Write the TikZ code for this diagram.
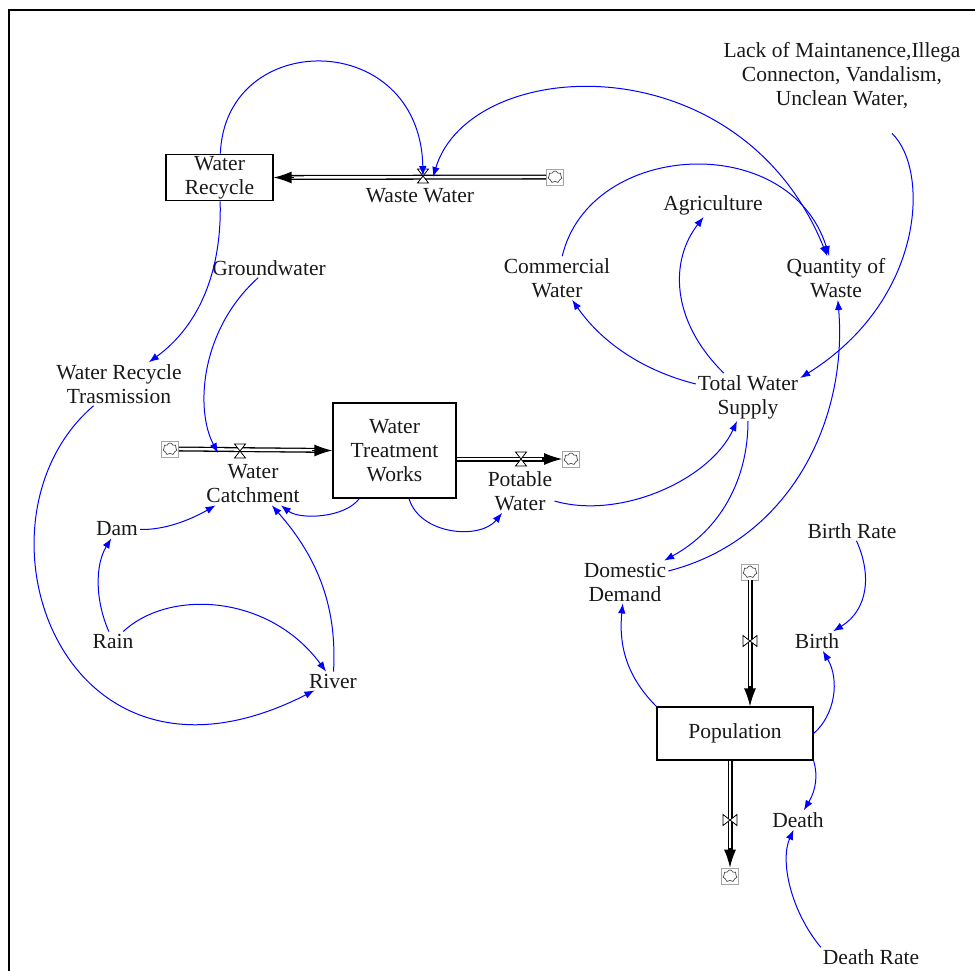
\documentclass[tikz,border=0pt]{standalone}
\usepackage{fontspec}
\setmainfont{Liberation Serif}
\usetikzlibrary{arrows.meta,shapes.symbols,calc}
\begin{document}
\begin{tikzpicture}[x=1pt,y=-1pt,
  every node/.style={font=\fontsize{21.5}{24}\selectfont, text=black!90, align=center, inner sep=2pt},
  stock/.style={draw, line width=1.2pt, rectangle},
  link/.style={draw=blue, line width=1pt, -{Latex[length=10pt,width=7.5pt]}},
  biarrow/.style={{Latex[length=10pt,width=7.5pt]}-{Latex[length=10pt,width=7.5pt]}},
  pipe/.style={draw=black, line width=1.3pt, double=white, double distance=2.4pt},
  pipetip/.style={draw=black, line width=1.3pt, -{Latex[length=18pt,width=12pt]}},
  cloudbox/.style={draw=black!35, line width=0.7pt, minimum width=17pt, minimum height=16pt, inner sep=0pt, fill=white,
    path picture={\node[cloud, cloud puffs=7, draw=black!70, line width=0.7pt, minimum width=14pt, minimum height=12pt, inner sep=0pt] at (path picture bounding box.center) {};}},
  valveh/.pic={\draw[fill=white, line width=0.8pt] (-5.5,-7) -- (5.5,-7) -- (-5.5,7) -- (5.5,7) -- cycle;},
  valvev/.pic={\draw[fill=white, line width=0.8pt] (-7,-5.5) -- (-7,5.5) -- (7,-5.5) -- (7,5.5) -- cycle;},
]
\useasboundingbox (0,0) rectangle (975,970);
\fill[white] (0,0) rectangle (975,970);
% frame
\draw[line width=2.5pt] (9,971) -- (9,10) -- (976,10);

% stocks
\node[stock, minimum width=107pt, minimum height=45pt] (wr) at (219.5,177.5) {Water\\Recycle};
\node[stock, minimum width=123pt, minimum height=95pt] (wtw) at (394.5,450.5) {Water\\Treatment\\Works};
\node[stock, minimum width=156pt, minimum height=53pt] (pop) at (735,733.5) {Population};

% clouds
\node[cloudbox] (wwc) at (555,177) {};
\node[cloudbox] (wcc) at (170,449) {};
\node[cloudbox] (pwc) at (571,459) {};
\node[cloudbox] (bc) at (750,572) {};
\node[cloudbox] (dc) at (730,876) {};

% valve positions
\coordinate (wwv) at (423,176);
\coordinate (wwv2) at (433,177);
\coordinate (wcv) at (240,451);
\coordinate (wcin) at (218,453);
\coordinate (pwv) at (521,459);
\coordinate (bv) at (750,641);
\coordinate (dv) at (730,820);

% pipes
\draw[pipe, shorten >=15pt] (wwc.west) -- (wr.east);
\draw[pipetip] ($(wr.east)+(20,0)$) -- (wr.east);
\draw[pipe, shorten >=15pt] (wcc.east) -- (wtw.west);
\draw[pipetip] ($(wtw.west)+(-20,0)$) -- (wtw.west);
\draw[pipe, shorten >=15pt] (wtw.east |- pwc) -- (pwc.west);
\draw[pipetip] ($(pwc.west)+(-20,0)$) -- (pwc.west);
\draw[pipe, shorten >=15pt] (bc.south) -- (pop.north -| bc);
\draw[pipetip] ($(pop.north -| bc)+(0,-20)$) -- (pop.north -| bc);
\draw[pipe, shorten >=15pt] (pop.south -| dc) -- (dc.north);
\draw[pipetip] ($(dc.north)+(0,-20)$) -- (dc.north);

% valves
\pic at (wwv) {valveh};
\pic at (wcv) {valveh};
\pic at (pwv) {valveh};
\pic at (bv) {valvev};
\pic at (dv) {valvev};

% flow labels
\node (wwl) at (420,196) {Waste Water};
\node (wcl) at (253,484) {Water\\Catchment};
\node (pwl) at (520,491) {Potable\\Water};
\node (birth) at (817,641) {Birth};
\node (death) at (798,820) {Death};

% auxiliaries
\node (gw) at (269,268) {Groundwater};
\node (wrt) at (119,384) {Water Recycle\\Trasmission};
\node (dam) at (117,529) {Dam};
\node (rain) at (113,641) {Rain};
\node (river) at (333,681) {River};
\node (cw) at (557,278) {Commercial\\Water};
\node (agri) at (713,205) {Agriculture};
\node (qow) at (836,278) {Quantity of\\Waste};
\node (lack) at (842,76) {Lack of Maintanence,Illega\\Connecton, Vandalism,\\Unclean Water,};
\node (tws) at (748,397) {Total Water\\Supply};
\node (dd) at (625,582) {Domestic\\Demand};
\node (br) at (852,531) {Birth Rate};
\node (dr) at (871,957) {Death Rate};

% connectors
\draw[link] (wr) .. controls (222,270) and (200,325) .. (wrt);
\draw[link] (wr) .. controls (225,28) and (420,28) .. (wwv);
\draw[link, biarrow] (wwv2) .. controls (470,55) and (740,40) .. (qow);
\draw[link] (cw) .. controls (590,140) and (790,130) .. (qow);
\draw[link] ($(lack.south)+(50,22)$) .. controls (930,170) and (925,300) .. (tws.20);
\draw[link] (tws) .. controls (640,370) and (600,340) .. (cw);
\draw[link] (tws) .. controls (670,320) and (670,260) .. (agri);
\draw[link] (dd) .. controls (790,540) and (848,420) .. (qow);
\draw[link] (tws) .. controls (748,480) and (720,530) .. (dd);
\draw[link] (pwl) .. controls (620,520) and (710,480) .. (tws);
\draw[link] (gw) .. controls (200,330) and (195,410) .. (wcin);
\draw[link] (wtw) .. controls (345,518) and (300,520) .. (wcl);
\draw[link] (wtw) .. controls (420,535) and (480,540) .. (pwl);
\draw[link] (dam) .. controls (165,530) and (190,520) .. (wcl);
\draw[link] (rain) .. controls (95,600) and (95,565) .. (dam);
\draw[link] (rain) .. controls (170,588) and (270,595) .. (river);
\draw[link] (river) .. controls (337,610) and (320,560) .. (wcl);
\draw[link] (wrt) .. controls (-40,520) and (60,820) .. (river);
\draw[link] (pop.north west) .. controls (630,680) and (618,650) .. (dd);
\draw[link] (pop.east) .. controls (835,715) and (840,680) .. (birth);
\draw[link] (br) .. controls (872,575) and (868,610) .. (birth);
\draw[link] (pop.south east) .. controls (818,775) and (816,790) .. (death);
\draw[link] (dr.north west) .. controls (790,910) and (780,860) .. (death);
\end{tikzpicture}
\end{document}
